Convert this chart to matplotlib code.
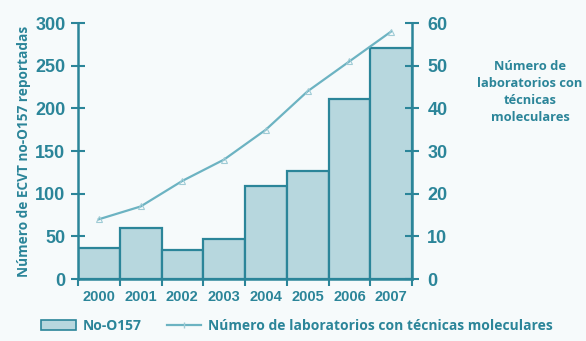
import matplotlib
matplotlib.use("Agg")
import matplotlib.pyplot as plt
from matplotlib.patches import Patch
from matplotlib.lines import Line2D

years = ["2000", "2001", "2002", "2003", "2004", "2005", "2006", "2007"]
no_o157 = [36, 60, 34, 47, 109, 127, 211, 271]
labs = [14, 17, 23, 28, 35, 44, 51, 58]

teal = "#2b8599"
bar_fill = "#b7d7de"
line_col = "#6cb3c2"
bg = "#f6fafb"

fig = plt.figure(figsize=(5.86, 3.41), dpi=100, facecolor=bg)
ax = fig.add_axes([78/586, 1-279/341, (412-78)/586, (279-23)/341], facecolor=bg)
x = list(range(len(years)))
ax.bar(x, no_o157, width=1.0, color=bar_fill, edgecolor=teal, linewidth=1.6, zorder=2)
ax.set_xlim(-0.5, len(years)-0.5)
ax.set_ylim(0, 300)
ax.set_yticks(range(0, 301, 50))
ax.set_xticks([i-0.5 for i in range(len(years)+1)])
ax.set_xticklabels([])
ax.set_xticks(x, minor=True)
ax.set_xticklabels(years, minor=True, fontsize=10.5, fontweight="bold", color=teal,
                   family="Liberation Sans")
ax.tick_params(axis="x", which="minor", length=0, pad=8)
ax.tick_params(axis="x", which="major", length=5, width=1.5, color=teal, direction="out")
ax.tick_params(axis="y", length=10, width=1.5, color=teal, direction="inout", labelsize=13,
               labelcolor=teal, pad=4)
for lab in ax.get_yticklabels():
    lab.set_fontweight("bold"); lab.set_family("Liberation Sans")
for s in ["top", "right"]:
    ax.spines[s].set_visible(False)
for s in ["left", "bottom"]:
    ax.spines[s].set_color(teal); ax.spines[s].set_linewidth(1.8)
ax.set_ylabel("Número de ECVT no-O157 reportadas", color=teal, fontsize=9.8,
              fontweight="bold", family="Open Sans", labelpad=3)

ax2 = ax.twinx()
ax2.plot(x, labs, color=line_col, linewidth=1.6, marker="^", markersize=5,
         markerfacecolor="none", markeredgecolor="#9fcbd5", markeredgewidth=0.8, zorder=3)
ax2.set_ylim(0, 60)
ax2.set_yticks(range(0, 61, 10))
ax2.tick_params(axis="y", length=10, width=1.5, color=teal, direction="inout", labelsize=13,
                labelcolor=teal, pad=6)
for lab in ax2.get_yticklabels():
    lab.set_fontweight("bold"); lab.set_family("Liberation Sans")
for s in ["top", "left", "bottom"]:
    ax2.spines[s].set_visible(False)
ax2.spines["right"].set_color(teal); ax2.spines["right"].set_linewidth(1.8)

fig.text(530/586, 1-92/341, "Número de\nlaboratorios con\ntécnicas\nmoleculares",
         ha="center", va="center", color=teal, fontsize=9.3, fontweight="bold",
         family="Open Sans", linespacing=1.4)

handles = [Patch(facecolor=bar_fill, edgecolor=teal, linewidth=1.2),
           Line2D([0], [0], color=line_col, linewidth=1.6, marker="|", markersize=4,
                  markeredgecolor="#9fcbd5")]
leg = fig.legend(handles, ["No-O157", "Número de laboratorios con técnicas moleculares"],
                 loc="center", bbox_to_anchor=(297/586, 1-326/341), ncol=2, frameon=False,
                 prop={"family": "Open Sans", "weight": "bold", "size": 10},
                 handlelength=2.5, handleheight=0.8, columnspacing=1.8, handletextpad=0.5)
for t in leg.get_texts():
    t.set_color(teal)

fig.savefig("out.png", dpi=100, facecolor=bg)
